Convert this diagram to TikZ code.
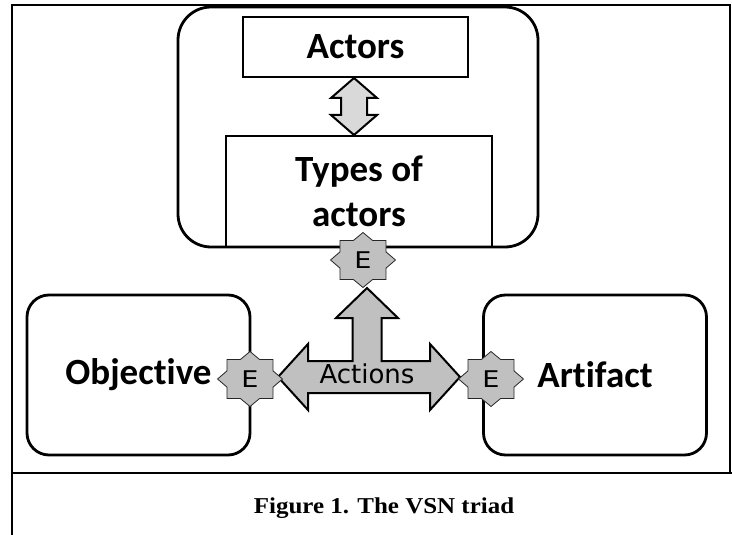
\documentclass[tikz,border=0pt]{standalone}
\usepackage{fontspec}
\setmainfont{Carlito}[Ligatures=NoCommon]
\newfontfamily\efont{DejaVu Sans}
\newfontfamily\capfont{Liberation Serif}[FakeStretch=1.1]
\usetikzlibrary{positioning,shapes.geometric}
\definecolor{egray}{HTML}{C0C0C0}
\definecolor{lgray}{HTML}{D9D9D9}

\begin{document}
\begin{tikzpicture}[x=1pt, y=-1pt,
      frame/.style={draw, line width=2pt},
      grp/.style={rectangle, rounded corners=33pt, draw, line width=2.8pt, minimum width=360pt, minimum height=240pt},
      rbox/.style={rectangle, rounded corners=22pt, draw, line width=2.8pt, minimum width=223pt, minimum height=160pt, font=\fontsize{37}{44}\selectfont\bfseries},
      sbox/.style={rectangle, draw, line width=2.8pt, align=center, font=\fontsize{37}{45}\selectfont\bfseries},
      ent/.style={star, star points=8, star point ratio=1.3, draw=black!85, fill=egray, line width=0.8pt, minimum size=55pt, inner sep=0pt, xscale=1.18, transform shape, font=\efont\fontsize{23}{23}\selectfont},
      fat/.style={draw, line width=2pt, line join=miter, fill=egray},
    ]
    \useasboundingbox (0,0) rectangle (732,535);

    % Frame
    \draw[frame] (12,535) -- (12,5) -- (730,5) -- (730,473);
    \draw[frame, line width=2.5pt] (12,473) -- (732,473);

    % Nodes
    \node[grp] (group) at (358,127) {};
    \node[sbox, minimum width=225pt, minimum height=60pt] (actors) at (355.5,47) {Actors};
    \node[sbox, minimum width=266pt, minimum height=111pt] (types) at (359,191.5) {Types of\\actors};
    \node[rbox] (objective) at (138.5,375) {Objective};
    \node[rbox] (artifact) at (595,375) {Artifact};

    % Arrows
    \draw[fat, fill=lgray, shift={(354,106.5)}] (0,-28.5) -- (23,-8.5) -- (13,-8.5) -- (13,8.5) -- (23,8.5) -- (0,28.5)
      -- (-23,8.5) -- (-13,8.5) -- (-13,-8.5) -- (-23,-8.5) -- cycle;
    \draw[fat, shift={(367,377)}] (-89,0) -- (-59,-33) -- (-59,-16) -- (-14.5,-16) -- (-14.5,-59) -- (-31,-59) -- (0,-89)
      -- (31,-59) -- (14.5,-59) -- (14.5,-16) -- (63,-16) -- (63,-33) -- (93,0) -- (63,33) -- (63,16)
      -- (-59,16) -- (-59,33) -- cycle;
    \node[font=\efont\fontsize{26}{26}\selectfont] (actions) at (367,374) {Actions};

    % Entities
    \node[ent] (etop) at (363,260) {E};
    \node[ent] (eobj) at (250,379) {E};
    \node[ent] (eart) at (491,379) {E};

    % Caption
    \node[anchor=base, font=\capfont\bfseries\fontsize{22.7}{26}\selectfont] (caption) at (384,513) {Figure 1. The VSN triad};
  \end{tikzpicture}
\end{document}
